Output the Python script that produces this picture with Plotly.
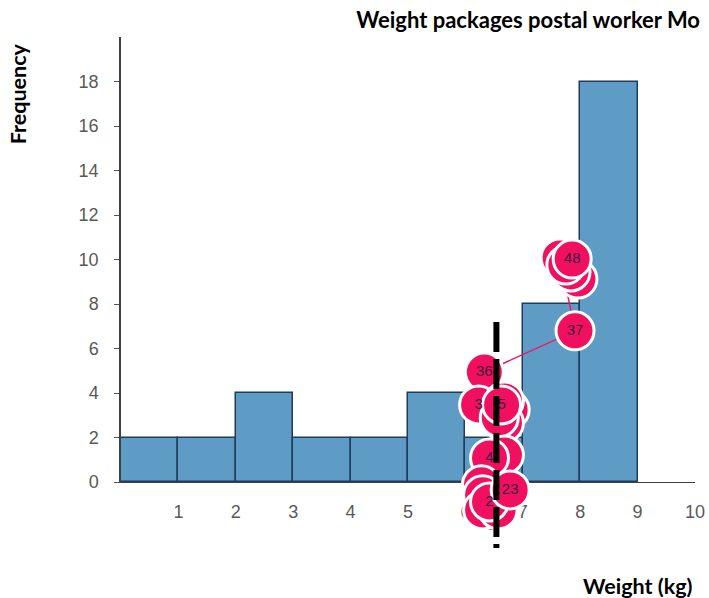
import plotly.graph_objects as go

bin_centers = [0.5, 1.5, 2.5, 3.5, 4.5, 5.5, 6.5, 7.5, 8.5]
frequencies = [2, 2, 4, 2, 2, 4, 2, 8, 18]

guess_x = [7.65, 7.96, 7.84, 7.75, 7.86, 7.91, 6.33, 6.23, 6.78, 6.68, 6.59, 6.68, 6.63,
           6.68, 6.42, 6.28, 6.30, 6.50, 6.30, 6.57, 6.42, 6.78]
guess_y = [10.07, 9.12, 9.44, 9.75, 10.02, 6.79, 4.94, 3.46, 3.24, 2.65, 2.88, 3.64, 3.46,
           1.21, 1.08, -0.13, -0.58, -1.39, -1.26, -1.26, -0.90, -0.36]
guess_labels = ["", "", "", "", "48", "37", "36", "3", "", "", "", "", "5",
                "", "4", "", "", "", "", "", "2", "23"]

connector_x = [7.65, 7.91, 6.33]
connector_y = [10.07, 6.79, 4.94]

mean_x = [6.54, 6.54]
mean_y = [7.19, -2.97]

x_ticks = [1, 2, 3, 4, 5, 6, 7, 8, 9, 10]
y_ticks = [0, 2, 4, 6, 8, 10, 12, 14, 16, 18]

fig = go.Figure()
fig.add_trace(go.Bar(
    x=bin_centers, y=frequencies, width=1,
    marker=dict(color="#5f9cc5", line=dict(color="#1f3c5c", width=1.5)),
))
fig.add_trace(go.Scatter(
    x=connector_x, y=connector_y, mode="lines", xaxis="x2", yaxis="y2",
    line=dict(color="#ee1a66", width=1.5),
))
fig.add_trace(go.Scatter(
    x=guess_x, y=guess_y, text=guess_labels, mode="markers+text", xaxis="x2", yaxis="y2",
    textposition="middle center",
    textfont=dict(family="Liberation Sans", size=15, color="#3a1c3c"),
    marker=dict(size=38, color="#f0105f", line=dict(color="white", width=3)),
))
fig.add_trace(go.Scatter(
    x=mean_x, y=mean_y, mode="lines", xaxis="x2", yaxis="y2",
    line=dict(color="black", width=6, dash="30px,7px"),
))

bold = dict(family="Lato", size=22, color="black")
bold_small = dict(family="Lato", size=21.5, color="black")
fig.update_layout(
    width=717, height=598, autosize=False,
    margin=dict(l=121, r=13, t=37, b=38),
    paper_bgcolor="white", plot_bgcolor="rgba(0,0,0,0)",
    showlegend=False, bargap=0,
    font=dict(family="Liberation Sans", size=18, color="#595959"),
    title=dict(text="<b>Weight packages postal worker Mo</b>", x=0.9763, xanchor="right",
               y=0.9666, yanchor="middle", font=bold),
    xaxis=dict(range=[0, 10], tickvals=x_ticks, ticks="", ticklabelstandoff=13,
               showgrid=False, zeroline=False, anchor="y",
               showline=True, linecolor="#404040", linewidth=1, layer="below traces"),
    yaxis=dict(range=[0, 20], domain=[0.1491, 1], tickvals=y_ticks, ticks="outside", ticklen=5,
               tickwidth=1, ticklabelstandoff=12, tickcolor="#555555",
               showgrid=False, zeroline=False, anchor="x",
               showline=True, linecolor="#404040", linewidth=1.5, layer="below traces"),
    xaxis2=dict(range=[0, 10], visible=False, anchor="y2"),
    yaxis2=dict(range=[-3.51, 20], domain=[0, 1], visible=False, anchor="x2"),
    annotations=[
        dict(text="<b>Frequency</b>", xref="paper", yref="paper", x=-0.179, y=0.891,
             xanchor="center", yanchor="middle", textangle=-90, showarrow=False, font=bold_small),
        dict(text="<b>Weight (kg)</b>", xref="paper", yref="paper", x=1.0, y=-0.05,
             xanchor="right", yanchor="middle", showarrow=False, font=bold_small),
    ],
)
fig.write_html("out.html", config={"displayModeBar": False},
               post_script="document.body.style.margin='0';document.body.style.overflow='hidden';")
